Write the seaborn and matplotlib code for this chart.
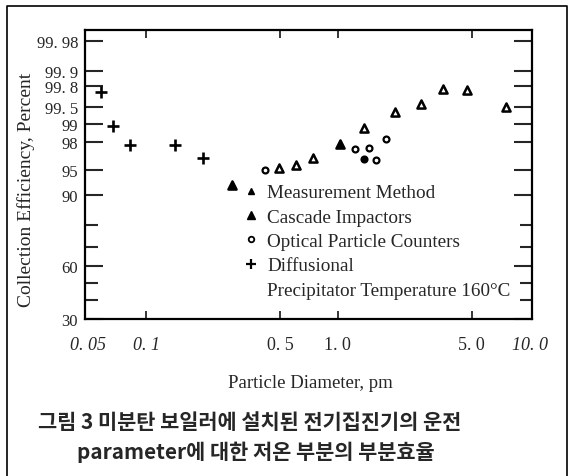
import numpy as np
import pandas as pd
import matplotlib
matplotlib.use("Agg")
import matplotlib.pyplot as plt
import seaborn as sns
from matplotlib.lines import Line2D
from matplotlib.ticker import NullLocator
from statistics import NormalDist

# ---------------- data ----------------
diff_d = [0.058, 0.067, 0.082, 0.141, 0.197]
diff_eff = [99.74, 98.9, 97.8, 97.8, 96.6]

casc_d = [0.282, 0.493, 0.603, 0.746, 1.028, 1.363, 1.981, 2.70, 3.53, 4.70, 7.55]
casc_eff = [92.3, 95.3, 95.8, 96.6, 97.9, 98.8, 99.37, 99.55, 99.77, 99.76, 99.50]
casc_filled = [True, False, False, False, True, False, False, False, False, False, False]

opt_d = [0.416, 1.223, 1.448, 1.363, 1.58, 1.784]
opt_eff = [95.1, 97.5, 97.6, 96.5, 96.4, 98.2]
opt_filled = [False, False, False, True, False, False]

y_ticks = [30, 60, 90, 95, 98, 99, 99.5, 99.8, 99.9, 99.98]
y_ticklabels = ["30", "60", "90", "95", "98", "99", "99. 5", "99. 8", "99. 9", "99. 98"]
y_minor = [40, 50, 70, 80]
x_ticks = [0.05, 0.1, 0.5, 1.0, 5.0, 10.0]
x_ticklabels = ["0. 05", "0. 1", "0. 5", "1. 0", "5. 0", "10. 0"]
x_italic = [True, True, False, False, False, True]

legend_labels = ["Measurement Method", "Cascade Impactors",
                 "Optical Particle Counters", "Diffusional",
                 "Precipitator Temperature 160°C"]
x_label = "Particle Diameter, pm"
y_label = "Collection Efficiency, Percent"
caption1 = "그림 3 미분탄 보일러에 설치된 전기집진기의 운전"
caption2 = "parameter에 대한 저온 부분의 부분효율"

# ---------------- style ----------------
sns.set_style("white")
plt.rcParams["font.family"] = ["Liberation Serif", "DejaVu Serif"]

SERIF = "Liberation Serif"

df = pd.concat([
    pd.DataFrame({"d": diff_d, "eff": diff_eff, "method": "Diffusional", "filled": True}),
    pd.DataFrame({"d": casc_d, "eff": casc_eff, "method": "Cascade", "filled": casc_filled}),
    pd.DataFrame({"d": opt_d, "eff": opt_eff, "method": "Optical", "filled": opt_filled}),
], ignore_index=True)

_nd = NormalDist()
_ppf = np.vectorize(_nd.inv_cdf, otypes=[float])
_cdf = np.vectorize(_nd.cdf, otypes=[float])


def probit(p):
    q = np.clip(np.asarray(p, dtype=float) / 100.0, 1e-12, 1 - 1e-12)
    return _ppf(q)


def inv_probit(z):
    return _cdf(np.asarray(z, dtype=float)) * 100.0


fig = plt.figure(figsize=(5.72, 4.77), dpi=100)
ax = fig.add_axes([85 / 572, 1 - 320 / 477, (532 - 85) / 572, (320 - 31) / 477])
ax.set_xscale("log")
ax.set_yscale("function", functions=(probit, inv_probit))

# Diffusional: plus markers
sub = df[df.method == "Diffusional"]
sns.scatterplot(data=sub, x="d", y="eff", marker="+", s=70, color="black",
                linewidth=1.9, ax=ax, legend=False)

# Cascade impactors: triangles
for filled in (False, True):
    sub = df[(df.method == "Cascade") & (df.filled == filled)]
    sns.scatterplot(data=sub, x="d", y="eff", marker="^", s=34, color="black",
                    linewidth=1.8, ax=ax, legend=False)
    pts = ax.collections[-1]
    pts.set_edgecolor("black")
    pts.set_facecolor("black" if filled else "white")

# Optical particle counters: small circles
for filled in (False, True):
    sub = df[(df.method == "Optical") & (df.filled == filled)]
    sns.scatterplot(data=sub, x="d", y="eff", marker="o", s=18, color="black",
                    linewidth=1.6, ax=ax, legend=False)
    pts = ax.collections[-1]
    pts.set_edgecolor("black")
    pts.set_facecolor("black" if filled else "white")

ax.set_xlim(0.048, 10.3)
ax.set_ylim(30, 99.989)

ax.set_yticks(y_ticks, y_ticklabels)
ax.set_yticks(y_minor, minor=True)
ax.set_xticks(x_ticks, x_ticklabels)
ax.xaxis.set_minor_locator(NullLocator())

ax.tick_params(axis="y", which="major", direction="in", left=True, right=True,
               length=13, width=1.5, labelsize=12, pad=5)
ax.tick_params(axis="y", which="minor", direction="in", left=True, right=True,
               length=9, width=1.5)
ax.tick_params(axis="x", which="major", direction="in", bottom=True, top=True,
               length=6, width=1.3, labelsize=13, pad=12)

for tick, loc in zip(ax.xaxis.get_major_ticks(), x_ticks):
    if loc in (0.05, 10.0):
        tick.tick1line.set_visible(False)
        tick.tick2line.set_visible(False)
for lbl, it in zip(ax.get_xticklabels(), x_italic):
    lbl.set_fontfamily(SERIF)
    if it:
        lbl.set_fontstyle("italic")
for lbl in ax.get_yticklabels():
    lbl.set_fontfamily(SERIF)

for sp in ax.spines.values():
    sp.set_linewidth(1.6)
    sp.set_color("black")

ax.set_xlabel(x_label, fontsize=13.5, fontfamily=SERIF)
ax.set_ylabel(y_label, fontsize=14, fontfamily=SERIF)
ax.xaxis.set_label_coords(0.505, -0.19)
ax.yaxis.set_label_coords(-0.112, 0.45)

handles = [
    Line2D([], [], ls="none", marker="^", markersize=4, color="black"),
    Line2D([], [], ls="none", marker="^", markersize=6, color="black"),
    Line2D([], [], ls="none", marker="o", markersize=4, mfc="white", mec="black", mew=1.3),
    Line2D([], [], ls="none", marker="+", markersize=7, mew=1.6, color="black"),
    Line2D([], [], ls="none"),
]
ax.legend(handles, legend_labels, loc="upper left",
          bbox_to_anchor=(244 / 572, 1 - 185 / 477), bbox_transform=fig.transFigure,
          frameon=False, prop={"family": SERIF, "size": 13.8},
          handlelength=0.7, handletextpad=0.5, labelspacing=0.36,
          borderpad=0, borderaxespad=0)

# outer frame of the figure
fig.add_artist(Line2D([7 / 572, 7 / 572, 567 / 572, 567 / 572],
                      [0, 1 - 7 / 477, 1 - 7 / 477, 0],
                      transform=fig.transFigure, color="black", lw=1.2))

cap_font = ["Noto Sans CJK KR", "DejaVu Sans"]
fig.text(38 / 572, 1 - 423 / 477, caption1, family=cap_font, fontweight="bold",
         fontsize=15, ha="left", va="center")
fig.text(77 / 572, 1 - 452 / 477, caption2, family=cap_font, fontweight="bold",
         fontsize=15, ha="left", va="center")

fig.savefig("out.png", dpi=100)
